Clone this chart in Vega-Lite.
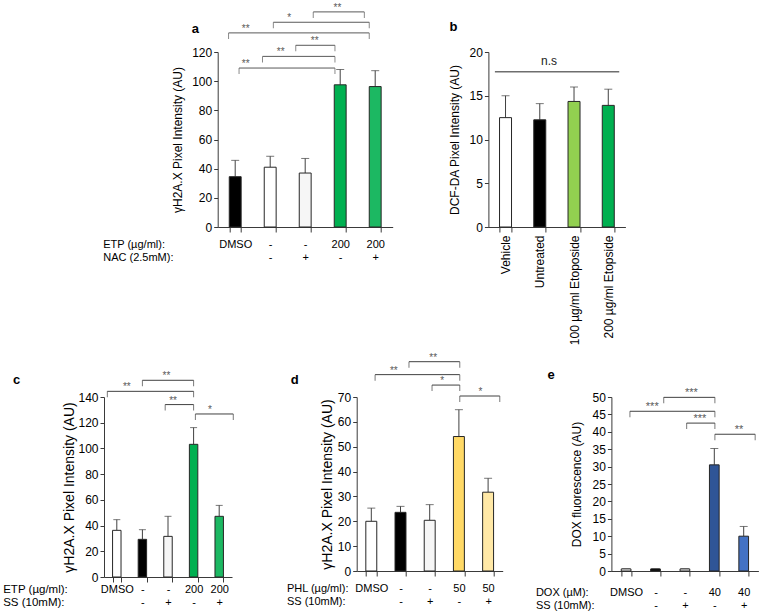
{
  "$schema": "https://vega.github.io/schema/vega-lite/v6.json",
  "padding": {"left": 2, "top": 2, "right": 0, "bottom": 0},
  "config": {
    "view": {"stroke": null},
    "font": "Liberation Sans",
    "axis": {"grid": false, "domainColor": "#3a3a3a", "tickColor": "#3a3a3a", "labelColor": "#000000", "titleColor": "#000000", "labelFont": "Liberation Sans", "titleFont": "Liberation Sans", "labelFontSize": 12, "titleFontWeight": "normal", "tickSize": 4, "labelPadding": 2},
    "title": {"anchor": "start", "frame": "group", "fontSize": 13, "fontWeight": "bold", "font": "Liberation Sans", "color": "#000000"}
  },
  "datasets": {
    "a_bars": [
      {"cond": "DMSO", "mean": 34.5, "upper": 45.7},
      {"cond": "-|-", "mean": 41.0, "upper": 48.5},
      {"cond": "-|+", "mean": 37.0, "upper": 47.0},
      {"cond": "200|-", "mean": 97.5, "upper": 108.0},
      {"cond": "200|+", "mean": 96.3, "upper": 107.2}
    ],
    "a_br": [
      {"x1": 1.11, "x2": 3.85, "lvl": 109.0, "sx": 1.30, "stars": "**"},
      {"x1": 1.78, "x2": 3.85, "lvl": 117.0, "sx": 2.30, "stars": "**"},
      {"x1": 2.73, "x2": 3.85, "lvl": 124.6, "sx": 3.27, "stars": "**"},
      {"x1": 0.81, "x2": 4.83, "lvl": 133.1, "sx": 1.30, "stars": "**"},
      {"x1": 2.09, "x2": 4.83, "lvl": 140.4, "sx": 2.54, "stars": "*"},
      {"x1": 3.23, "x2": 4.69, "lvl": 147.5, "sx": 3.92, "stars": "**"}
    ],
    "b_bars": [
      {"cond": "Vehicle", "mean": 12.5, "upper": 15.0},
      {"cond": "Untreated", "mean": 12.25, "upper": 14.1},
      {"cond": "100 µg/ml Etoposide", "mean": 14.35, "upper": 16.0},
      {"cond": "200 µg/ml Etopside", "mean": 13.9, "upper": 15.75}
    ],
    "b_br": [
      {"x1": 0.69, "x2": 4.32, "lvl": 17.73, "sx": 2.27, "stars": "n.s"}
    ],
    "c_bars": [
      {"cond": "DMSO", "mean": 36.3, "upper": 44.6},
      {"cond": "-|-", "mean": 29.3, "upper": 36.8},
      {"cond": "-|+", "mean": 31.6, "upper": 47.2},
      {"cond": "200|-", "mean": 103.2, "upper": 116.2},
      {"cond": "200|+", "mean": 47.2, "upper": 55.7}
    ],
    "c_br": [
      {"x1": 0.63, "x2": 4.0, "lvl": 144.4, "sx": 1.39, "stars": "**"},
      {"x1": 2.0, "x2": 4.0, "lvl": 153.0, "sx": 2.94, "stars": "**"},
      {"x1": 2.89, "x2": 4.0, "lvl": 134.1, "sx": 3.2, "stars": "**"},
      {"x1": 4.07, "x2": 5.55, "lvl": 126.8, "sx": 4.64, "stars": "*"}
    ],
    "d_bars": [
      {"cond": "DMSO", "mean": 20.0, "upper": 25.3},
      {"cond": "-|-", "mean": 23.6, "upper": 26.0},
      {"cond": "-|+", "mean": 20.4, "upper": 26.7},
      {"cond": "50|-", "mean": 54.1, "upper": 64.9},
      {"cond": "50|+", "mean": 31.7, "upper": 37.3}
    ],
    "d_br": [
      {"x1": 1.13, "x2": 4.03, "lvl": 79.0, "sx": 1.77, "stars": "**"},
      {"x1": 2.29, "x2": 4.03, "lvl": 84.2, "sx": 3.12, "stars": "**"},
      {"x1": 3.08, "x2": 4.03, "lvl": 74.8, "sx": 3.43, "stars": "*"},
      {"x1": 4.03, "x2": 5.4, "lvl": 70.4, "sx": 4.74, "stars": "*"}
    ],
    "e_bars": [
      {"cond": "DMSO", "mean": 0.6, "upper": 0.6},
      {"cond": "-|-", "mean": 0.6, "upper": 0.6},
      {"cond": "-|+", "mean": 0.6, "upper": 0.6},
      {"cond": "40|-", "mean": 30.5, "upper": 35.2},
      {"cond": "40|+", "mean": 10.0, "upper": 12.8}
    ],
    "e_br": [
      {"x1": 1.13, "x2": 4.02, "lvl": 45.9, "sx": 1.89, "stars": "***"},
      {"x1": 2.28, "x2": 4.02, "lvl": 49.9, "sx": 3.22, "stars": "***"},
      {"x1": 3.06, "x2": 4.02, "lvl": 42.5, "sx": 3.51, "stars": "***"},
      {"x1": 4.02, "x2": 5.39, "lvl": 39.3, "sx": 4.84, "stars": "**"}
    ]
  },
  "spacing": 7,
  "resolve": {"scale": {"fill": "independent"}},
  "vconcat": [
    {
      "resolve": {"scale": {"fill": "independent"}},
      "hconcat": [
        {"width": 18, "height": 10, "data": {"values": []}, "mark": {"type": "rule"}, "encoding": {}},
        {
          "width": 175, "height": 175,
          "title": {"text": "a", "dx": -26, "offset": -33},
          "layer": [
            {
              "data": {"name": "a_bars"},
              "encoding": {
                "x": {"field": "cond", "type": "nominal", "sort": null, "scale": {"paddingInner": 0.66, "paddingOuter": 0.33},
                  "axis": {"title": ["ETP (µg/ml):", "NAC (2.5mM):"], "labelExpr": "split(datum.label, '|')", "labelAngle": 0, "tickBand": "extent", "tickSize": 5, "labelPadding": 6.6, "labelFontSize": 11, "labelBaseline": "top", "labelLineHeight": 13.4, "titleAlign": "left", "titleAngle": 0, "titleX": -115, "titleY": 11.6, "titleBaseline": "top", "titleFontSize": 11, "titleLineHeight": 13.4}},
                "y": {"field": "mean", "type": "quantitative", "scale": {"domain": [0, 120], "nice": false},
                  "axis": {"title": "γH2A.X Pixel Intensity (AU)", "values": [0, 20, 40, 60, 80, 100, 120], "titleFontSize": 12, "titlePadding": 7}}
              },
              "layer": [
                {"mark": {"type": "rule", "color": "#404040"}, "encoding": {"y2": {"field": "upper"}}},
                {"mark": {"type": "tick", "orient": "horizontal", "size": 8, "thickness": 1, "color": "#404040"}, "encoding": {"y": {"field": "upper", "type": "quantitative", "scale": {"domain": [0, 120], "nice": false}, "axis": {"title": "γH2A.X Pixel Intensity (AU)", "values": [0, 20, 40, 60, 80, 100, 120], "titleFontSize": 12, "titlePadding": 7}}}},
                {"mark": {"type": "bar", "stroke": "#262626", "strokeWidth": 1}, "encoding": {"fill": {"field": "cond", "type": "nominal", "scale": {"domain": ["DMSO", "-|-", "-|+", "200|-", "200|+"], "range": ["#000000", "#ffffff", "#f6f6f6", "#00b050", "#1cb862"]}, "legend": null}}}
              ]
            },
            {
              "data": {"name": "a_br"},
              "encoding": {
                "x": {"field": "x1", "type": "quantitative", "scale": {"domain": [0.5, 5.5], "nice": false, "zero": false}, "axis": null},
                "y": {"field": "lvl", "type": "quantitative", "scale": {"domain": [0, 120], "nice": false}, "axis": {"title": "γH2A.X Pixel Intensity (AU)", "values": [0, 20, 40, 60, 80, 100, 120], "titleFontSize": 12, "titlePadding": 7}}
              },
              "layer": [
                {"mark": {"type": "rule", "color": "#595959"}, "encoding": {"x2": {"field": "x2"}}},
                {"mark": {"type": "tick", "orient": "vertical", "size": 6, "thickness": 1, "yOffset": 3, "color": "#595959"}},
                {"mark": {"type": "tick", "orient": "vertical", "size": 6, "thickness": 1, "yOffset": 3, "color": "#595959"}, "encoding": {"x": {"field": "x2", "type": "quantitative"}}},
                {"mark": {"type": "text", "baseline": "alphabetic", "dy": -1, "fontSize": 10, "color": "#595959"}, "encoding": {"x": {"field": "sx", "type": "quantitative"}, "text": {"field": "stars"}}}
              ]
            }
          ],
          "resolve": {"scale": {"x": "independent"}, "axis": {"x": "independent"}}
        },
        {
          "width": 137, "height": 175,
          "title": {"text": "b", "dx": -39, "offset": 12},
          "layer": [
            {
              "data": {"name": "b_bars"},
              "encoding": {
                "x": {"field": "cond", "type": "nominal", "sort": null, "scale": {"paddingInner": 0.65, "paddingOuter": 0.325},
                  "axis": {"title": null, "labelAngle": -90, "tickBand": "extent", "tickSize": 5, "labelPadding": 3, "labelFontSize": 12}},
                "y": {"field": "mean", "type": "quantitative", "scale": {"domain": [0, 20], "nice": false},
                  "axis": {"title": "DCF-DA Pixel Intensity (AU)", "values": [0, 5, 10, 15, 20], "titleFontSize": 12, "titlePadding": 8}}
              },
              "layer": [
                {"mark": {"type": "rule", "color": "#404040"}, "encoding": {"y2": {"field": "upper"}}},
                {"mark": {"type": "tick", "orient": "horizontal", "size": 8, "thickness": 1, "color": "#404040"}, "encoding": {"y": {"field": "upper", "type": "quantitative", "scale": {"domain": [0, 20], "nice": false}, "axis": {"title": "DCF-DA Pixel Intensity (AU)", "values": [0, 5, 10, 15, 20], "titleFontSize": 12, "titlePadding": 8}}}},
                {"mark": {"type": "bar", "stroke": "#262626", "strokeWidth": 1}, "encoding": {"fill": {"field": "cond", "type": "nominal", "scale": {"domain": ["Vehicle", "Untreated", "100 µg/ml Etoposide", "200 µg/ml Etopside"], "range": ["#ffffff", "#000000", "#92d050", "#00b050"]}, "legend": null}}}
              ]
            },
            {
              "data": {"name": "b_br"},
              "encoding": {
                "x": {"field": "x1", "type": "quantitative", "scale": {"domain": [0.5, 4.5], "nice": false, "zero": false}, "axis": null},
                "y": {"field": "lvl", "type": "quantitative", "scale": {"domain": [0, 20], "nice": false}, "axis": {"title": "DCF-DA Pixel Intensity (AU)", "values": [0, 5, 10, 15, 20], "titleFontSize": 12, "titlePadding": 8}}
              },
              "layer": [
                {"mark": {"type": "rule", "color": "#6e6e6e", "strokeWidth": 1.5}, "encoding": {"x2": {"field": "x2"}}},
                {"mark": {"type": "text", "baseline": "alphabetic", "dy": -7, "fontSize": 12, "color": "#222222"}, "encoding": {"x": {"field": "sx", "type": "quantitative"}, "text": {"field": "stars"}}}
              ]
            }
          ],
          "resolve": {"scale": {"x": "independent"}, "axis": {"x": "independent"}}
        }
      ],
      "bounds": "flush",
      "spacing": 95.7
    },
    {
      "resolve": {"scale": {"fill": "independent"}},
      "hconcat": [
        {
          "width": 128, "height": 180,
          "title": {"text": "c", "dx": -91, "offset": -15.7},
          "layer": [
            {
              "data": {"name": "c_bars"},
              "encoding": {
                "x": {"field": "cond", "type": "nominal", "sort": null, "scale": {"paddingInner": 0.67, "paddingOuter": 0.335},
                  "axis": {"title": ["ETP (µg/ml):", "SS (10mM):"], "labelExpr": "split(datum.label, '|')", "labelAngle": 0, "tickBand": "extent", "tickSize": 5, "labelPadding": 1.6, "labelFontSize": 11, "labelBaseline": "top", "labelLineHeight": 13.4, "titleAlign": "left", "titleAngle": 0, "titleX": -101.3, "titleY": 6.6, "titleBaseline": "top", "titleFontSize": 11.5, "titleLineHeight": 13.4}},
                "y": {"field": "mean", "type": "quantitative", "scale": {"domain": [0, 140], "nice": false},
                  "axis": {"title": "γH2A.X Pixel Intensity (AU)", "values": [0, 20, 40, 60, 80, 100, 120, 140], "titleFontSize": 14, "titlePadding": 1}}
              },
              "layer": [
                {"mark": {"type": "rule", "color": "#404040"}, "encoding": {"y2": {"field": "upper"}}},
                {"mark": {"type": "tick", "orient": "horizontal", "size": 7, "thickness": 1, "color": "#404040"}, "encoding": {"y": {"field": "upper", "type": "quantitative", "scale": {"domain": [0, 140], "nice": false}, "axis": {"title": "γH2A.X Pixel Intensity (AU)", "values": [0, 20, 40, 60, 80, 100, 120, 140], "titleFontSize": 14, "titlePadding": 1}}}},
                {"mark": {"type": "bar", "stroke": "#262626", "strokeWidth": 1}, "encoding": {"fill": {"field": "cond", "type": "nominal", "scale": {"domain": ["DMSO", "-|-", "-|+", "200|-", "200|+"], "range": ["#ffffff", "#000000", "#f6f6f6", "#00b050", "#1cb862"]}, "legend": null}}}
              ]
            },
            {
              "data": {"name": "c_br"},
              "encoding": {
                "x": {"field": "x1", "type": "quantitative", "scale": {"domain": [0.5, 5.5], "nice": false, "zero": false}, "axis": null},
                "y": {"field": "lvl", "type": "quantitative", "scale": {"domain": [0, 140], "nice": false}, "axis": {"title": "γH2A.X Pixel Intensity (AU)", "values": [0, 20, 40, 60, 80, 100, 120, 140], "titleFontSize": 14, "titlePadding": 1}}
              },
              "layer": [
                {"mark": {"type": "rule", "color": "#404040"}, "encoding": {"x2": {"field": "x2"}}},
                {"mark": {"type": "tick", "orient": "vertical", "size": 6, "thickness": 1, "yOffset": 3, "color": "#404040"}},
                {"mark": {"type": "tick", "orient": "vertical", "size": 6, "thickness": 1, "yOffset": 3, "color": "#404040"}, "encoding": {"x": {"field": "x2", "type": "quantitative"}}},
                {"mark": {"type": "text", "baseline": "alphabetic", "dy": -1, "fontSize": 10, "color": "#595959"}, "encoding": {"x": {"field": "sx", "type": "quantitative"}, "text": {"field": "stars"}}}
              ]
            }
          ],
          "resolve": {"scale": {"x": "independent"}, "axis": {"x": "independent"}}
        },
        {
          "resolve": {"scale": {"fill": "independent"}},
          "hconcat": [
            {
              "width": 146, "height": 174,
              "title": {"text": "d", "dx": -66, "offset": -34.3},
              "layer": [
                {
                  "data": {"name": "d_bars"},
                  "encoding": {
                    "x": {"field": "cond", "type": "nominal", "sort": null, "scale": {"paddingInner": 0.625, "paddingOuter": 0.3125},
                      "axis": {"title": ["PHL (µg/ml):", "SS (10mM):"], "labelExpr": "split(datum.label, '|')", "labelAngle": 0, "tickBand": "extent", "tickSize": 5, "labelPadding": 6.6, "labelFontSize": 11, "labelBaseline": "top", "labelLineHeight": 13.4, "titleAlign": "left", "titleAngle": 0, "titleX": -70.3, "titleY": 11.6, "titleBaseline": "top", "titleFontSize": 11, "titleLineHeight": 13.4}},
                    "y": {"field": "mean", "type": "quantitative", "scale": {"domain": [0, 70], "nice": false},
                      "axis": {"title": "γH2A.X Pixel Intensity (AU)", "values": [0, 10, 20, 30, 40, 50, 60, 70], "titleFontSize": 14, "titlePadding": 3}}
                  },
                  "layer": [
                    {"mark": {"type": "rule", "color": "#404040"}, "encoding": {"y2": {"field": "upper"}}},
                    {"mark": {"type": "tick", "orient": "horizontal", "size": 8, "thickness": 1, "color": "#404040"}, "encoding": {"y": {"field": "upper", "type": "quantitative", "scale": {"domain": [0, 70], "nice": false}, "axis": {"title": "γH2A.X Pixel Intensity (AU)", "values": [0, 10, 20, 30, 40, 50, 60, 70], "titleFontSize": 14, "titlePadding": 3}}}},
                    {"mark": {"type": "bar", "stroke": "#262626", "strokeWidth": 1}, "encoding": {"fill": {"field": "cond", "type": "nominal", "scale": {"domain": ["DMSO", "-|-", "-|+", "50|-", "50|+"], "range": ["#ffffff", "#000000", "#f6f6f6", "#ffd966", "#ffe8a6"]}, "legend": null}}}
                  ]
                },
                {
                  "data": {"name": "d_br"},
                  "encoding": {
                    "x": {"field": "x1", "type": "quantitative", "scale": {"domain": [0.5, 5.5], "nice": false, "zero": false}, "axis": null},
                    "y": {"field": "lvl", "type": "quantitative", "scale": {"domain": [0, 70], "nice": false}, "axis": {"title": "γH2A.X Pixel Intensity (AU)", "values": [0, 10, 20, 30, 40, 50, 60, 70], "titleFontSize": 14, "titlePadding": 3}}
                  },
                  "layer": [
                    {"mark": {"type": "rule", "color": "#404040"}, "encoding": {"x2": {"field": "x2"}}},
                    {"mark": {"type": "tick", "orient": "vertical", "size": 6, "thickness": 1, "yOffset": 3, "color": "#404040"}},
                    {"mark": {"type": "tick", "orient": "vertical", "size": 6, "thickness": 1, "yOffset": 3, "color": "#404040"}, "encoding": {"x": {"field": "x2", "type": "quantitative"}}},
                    {"mark": {"type": "text", "baseline": "alphabetic", "dy": -1, "fontSize": 10, "color": "#595959"}, "encoding": {"x": {"field": "sx", "type": "quantitative"}, "text": {"field": "stars"}}}
                  ]
                }
              ],
              "resolve": {"scale": {"x": "independent"}, "axis": {"x": "independent"}}
            },
            {
              "width": 147, "height": 174,
              "title": {"text": "e", "dx": -64, "offset": 5.6},
              "layer": [
                {
                  "data": {"name": "e_bars"},
                  "encoding": {
                    "x": {"field": "cond", "type": "nominal", "sort": null, "scale": {"paddingInner": 0.67, "paddingOuter": 0.335},
                      "axis": {"title": ["DOX (µM):", "SS (10mM):"], "labelExpr": "split(datum.label, '|')", "labelAngle": 0, "tickBand": "extent", "tickSize": 5, "labelPadding": 10, "labelFontSize": 11, "labelBaseline": "top", "labelLineHeight": 13.4, "titleAlign": "left", "titleAngle": 0, "titleX": -76, "titleY": 15, "titleBaseline": "top", "titleFontSize": 11, "titleLineHeight": 13.4}},
                    "y": {"field": "mean", "type": "quantitative", "scale": {"domain": [0, 50], "nice": false},
                      "axis": {"title": "DOX fluorescence (AU)", "values": [0, 5, 10, 15, 20, 25, 30, 35, 40, 45, 50], "titleFontSize": 12, "titlePadding": 9}}
                  },
                  "layer": [
                    {"mark": {"type": "rule", "color": "#404040"}, "encoding": {"y2": {"field": "upper"}}},
                    {"mark": {"type": "tick", "orient": "horizontal", "size": 8, "thickness": 1, "color": "#404040"}, "encoding": {"y": {"field": "upper", "type": "quantitative", "scale": {"domain": [0, 50], "nice": false}, "axis": {"title": "DOX fluorescence (AU)", "values": [0, 5, 10, 15, 20, 25, 30, 35, 40, 45, 50], "titleFontSize": 12, "titlePadding": 9}}}},
                    {"mark": {"type": "bar", "stroke": "#262626", "strokeWidth": 1}, "encoding": {"fill": {"field": "cond", "type": "nominal", "scale": {"domain": ["DMSO", "-|-", "-|+", "40|-", "40|+"], "range": ["#ffffff", "#000000", "#f6f6f6", "#2f5597", "#4472c4"]}, "legend": null}}}
                  ]
                },
                {
                  "data": {"name": "e_br"},
                  "encoding": {
                    "x": {"field": "x1", "type": "quantitative", "scale": {"domain": [0.5, 5.5], "nice": false, "zero": false}, "axis": null},
                    "y": {"field": "lvl", "type": "quantitative", "scale": {"domain": [0, 50], "nice": false}, "axis": {"title": "DOX fluorescence (AU)", "values": [0, 5, 10, 15, 20, 25, 30, 35, 40, 45, 50], "titleFontSize": 12, "titlePadding": 9}}
                  },
                  "layer": [
                    {"mark": {"type": "rule", "color": "#404040"}, "encoding": {"x2": {"field": "x2"}}},
                    {"mark": {"type": "tick", "orient": "vertical", "size": 6, "thickness": 1, "yOffset": 3, "color": "#404040"}},
                    {"mark": {"type": "tick", "orient": "vertical", "size": 6, "thickness": 1, "yOffset": 3, "color": "#404040"}, "encoding": {"x": {"field": "x2", "type": "quantitative"}}},
                    {"mark": {"type": "text", "baseline": "alphabetic", "dy": -1, "fontSize": 11, "color": "#595959"}, "encoding": {"x": {"field": "sx", "type": "quantitative"}, "text": {"field": "stars"}}}
                  ]
                }
              ],
              "resolve": {"scale": {"x": "independent"}, "axis": {"x": "independent"}}
            }
          ],
          "bounds": "flush",
          "spacing": 108.7
        }
      ],
      "bounds": "flush",
      "spacing": 124.7
    }
  ]
}
